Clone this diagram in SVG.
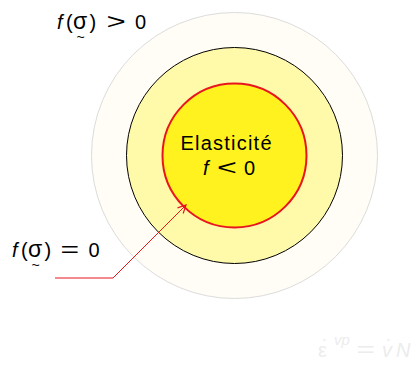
<svg xmlns="http://www.w3.org/2000/svg" width="420" height="368" viewBox="0 0 420 368">
<style>
text{font-family:"Liberation Sans",Arial,sans-serif;font-size:20px;fill:#000}
.it{font-style:italic}
.rel{font-size:22px}
.sg{font-size:23px}
.tl{font-size:14px}
.faint{fill:#ececec}
</style>
<defs>
<marker id="ah" viewBox="0 0 10 10" refX="9" refY="5" markerWidth="10" markerHeight="10" markerUnits="userSpaceOnUse" orient="auto">
<path d="M1,1 L9,5 L1,9" fill="none" stroke="#e8141e" stroke-width="1.2"/>
</marker>
</defs>
<rect width="420" height="368" fill="#fff"/>
<g id="outer"><circle cx="234.5" cy="155.5" r="143" fill="#fffdf5" stroke="#dcdcdc" stroke-width="1"/></g>
<g id="middle"><circle cx="234.5" cy="155.5" r="108" fill="#fff9aa" stroke="#000" stroke-width="1"/></g>
<g id="inner"><circle cx="234.5" cy="155.5" r="72" fill="#fff21e" stroke="#e8141e" stroke-width="2"/>
<text x="226" y="150" text-anchor="middle" font-size="21" textLength="91">Elasticité</text>
<text class="it" x="203" y="174.5">f</text>
<text class="rel" transform="translate(217,174.5) scale(1.55,1)">&lt;</text>
<text x="244" y="174.5">0</text>
</g>
<g id="label-top">
<text y="29"><tspan class="it" x="57">f</tspan><tspan x="66">(</tspan><tspan class="sg" x="73">σ</tspan><tspan x="89.5">)</tspan></text>
<text class="rel" transform="translate(106.5,29) scale(1.5,1)">&gt;</text>
<text x="135" y="29">0</text>
<text class="tl" x="76.5" y="42">~</text>
</g>
<g id="label-bottom">
<text y="256.5"><tspan class="it" x="12">f</tspan><tspan x="21">(</tspan><tspan class="sg" x="28">σ</tspan><tspan x="44.5">)</tspan></text>
<text class="rel" transform="translate(60.5,256.5) scale(1.45,1)">=</text>
<text x="88.5" y="256.5">0</text>
<text class="tl" x="31.5" y="269.5">~</text>
</g>
<g id="connectors">
<polyline points="55,278 113,278 186,205" fill="none" stroke="#e8141e" stroke-width="1" marker-end="url(#ah)"/>
</g>
<g id="faint-eq">
<text class="faint" y="357"><tspan x="318">ε</tspan><tspan x="334" y="345" font-size="15" class="it">vp</tspan><tspan x="382" y="357" class="it">v</tspan><tspan x="396" class="it">N</tspan></text>
<text class="faint rel" transform="translate(356.5,357) scale(1.45,1)">=</text>
<text class="faint" x="322" y="354">˙</text>
<text class="faint" x="386" y="354">˙</text>
</g>
</svg>
